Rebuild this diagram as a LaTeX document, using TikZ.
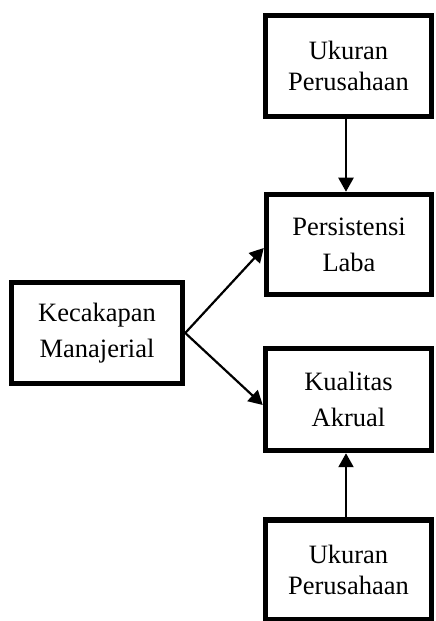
\documentclass[tikz,border=0pt]{standalone}
\usepackage{fontspec}
\setmainfont{Liberation Serif}
\usetikzlibrary{arrows.meta}
\tikzset{
  box/.style={draw, line width=5.5pt, inner sep=0pt, align=center,
    font=\fontsize{26.5pt}{31pt}\selectfont},
  wide/.style={font=\fontsize{26.5pt}{36pt}\selectfont},
  conn/.style={line width=2.2pt, -{Triangle[length=14pt,width=15pt]}}
}
\begin{document}
\begin{tikzpicture}[x=1pt,y=1pt]
\useasboundingbox (0,0) rectangle (436,621);
\node[box, minimum width=166pt, minimum height=101pt] (ukTop) at (348.5,555) {Ukuran\\Perusahaan};
\node[box, wide, minimum width=165pt, minimum height=100pt] (pers) at (349,376.5) {Persistensi\\Laba};
\node[box, wide, minimum width=171pt, minimum height=101pt] (kec) at (97,288) {Kecakapan\\Manajerial};
\node[box, wide, minimum width=166pt, minimum height=102pt] (kual) at (348.5,221.5) {Kualitas\\Akrual};
\node[box, minimum width=166pt, minimum height=100pt] (ukBot) at (348.5,51) {Ukuran\\Perusahaan};
\draw[conn] ([xshift=-2.5pt]ukTop.south) -- ([xshift=-3pt]pers.north);
\draw[conn] (kec.east) -- ([yshift=-3.5pt]pers.west);
\draw[conn] (kec.east) -- ([yshift=-5.5pt]kual.west);
\draw[conn] ([xshift=-2.5pt]ukBot.north) -- ([xshift=-2.5pt]kual.south);
\end{tikzpicture}
\end{document}
